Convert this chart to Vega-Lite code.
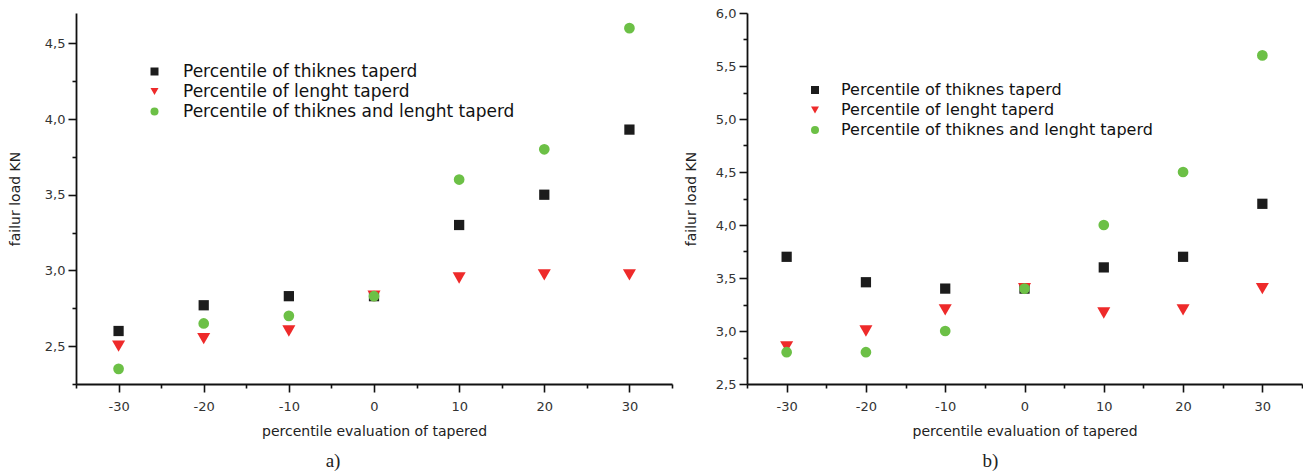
{
  "$schema": "https://vega.github.io/schema/vega-lite/v6.json",
  "padding": {"left": 8, "top": 7, "right": 0, "bottom": 0},
  "background": "white",
  "spacing": 11,
  "config": {
    "view": {"stroke": null},
    "font": "DejaVu Sans",
    "axis": {
      "grid": false,
      "domainColor": "#111",
      "domainWidth": 1.8,
      "tickColor": "#111",
      "tickWidth": 1.6,
      "labelFont": "DejaVu Sans",
      "labelFontSize": 13,
      "labelColor": "#333",
      "titleFont": "DejaVu Sans",
      "titleFontSize": 14,
      "titleFontWeight": "normal",
      "titleColor": "#222"
    },
    "axisX": {"labelPadding": 8, "titlePadding": 11, "labelFlush": false},
    "axisY": {"labelPadding": 3, "titlePadding": 22},
    "legend": {
      "orient": "none",
      "title": null,
      "labelFont": "DejaVu Sans",
      "labelColor": "#111",
      "labelLimit": 0,
      "symbolSize": 64,
      "symbolStrokeWidth": 0,
      "rowPadding": 2,
      "labelOffset": 20
    },
    "title": {"font": "Liberation Serif", "fontSize": 19, "fontWeight": "normal", "color": "#222", "orient": "bottom", "offset": 14}
  },
  "datasets": {
    "a": [
      {"x": -30, "series": "Percentile of thiknes taperd", "y": 2.60},
      {"x": -20, "series": "Percentile of thiknes taperd", "y": 2.77},
      {"x": -10, "series": "Percentile of thiknes taperd", "y": 2.83},
      {"x": 0, "series": "Percentile of thiknes taperd", "y": 2.83},
      {"x": 10, "series": "Percentile of thiknes taperd", "y": 3.30},
      {"x": 20, "series": "Percentile of thiknes taperd", "y": 3.50},
      {"x": 30, "series": "Percentile of thiknes taperd", "y": 3.93},
      {"x": -30, "series": "Percentile of lenght taperd", "y": 2.50},
      {"x": -20, "series": "Percentile of lenght taperd", "y": 2.55},
      {"x": -10, "series": "Percentile of lenght taperd", "y": 2.60},
      {"x": 0, "series": "Percentile of lenght taperd", "y": 2.83},
      {"x": 10, "series": "Percentile of lenght taperd", "y": 2.95},
      {"x": 20, "series": "Percentile of lenght taperd", "y": 2.97},
      {"x": 30, "series": "Percentile of lenght taperd", "y": 2.97},
      {"x": -30, "series": "Percentile of thiknes and lenght taperd", "y": 2.35},
      {"x": -20, "series": "Percentile of thiknes and lenght taperd", "y": 2.65},
      {"x": -10, "series": "Percentile of thiknes and lenght taperd", "y": 2.70},
      {"x": 0, "series": "Percentile of thiknes and lenght taperd", "y": 2.83},
      {"x": 10, "series": "Percentile of thiknes and lenght taperd", "y": 3.60},
      {"x": 20, "series": "Percentile of thiknes and lenght taperd", "y": 3.80},
      {"x": 30, "series": "Percentile of thiknes and lenght taperd", "y": 4.60}
    ],
    "b": [
      {"x": -30, "series": "Percentile of thiknes taperd", "y": 3.70},
      {"x": -20, "series": "Percentile of thiknes taperd", "y": 3.46},
      {"x": -10, "series": "Percentile of thiknes taperd", "y": 3.40},
      {"x": 0, "series": "Percentile of thiknes taperd", "y": 3.40},
      {"x": 10, "series": "Percentile of thiknes taperd", "y": 3.60},
      {"x": 20, "series": "Percentile of thiknes taperd", "y": 3.70},
      {"x": 30, "series": "Percentile of thiknes taperd", "y": 4.20},
      {"x": -30, "series": "Percentile of lenght taperd", "y": 2.85},
      {"x": -20, "series": "Percentile of lenght taperd", "y": 3.00},
      {"x": -10, "series": "Percentile of lenght taperd", "y": 3.20},
      {"x": 0, "series": "Percentile of lenght taperd", "y": 3.40},
      {"x": 10, "series": "Percentile of lenght taperd", "y": 3.17},
      {"x": 20, "series": "Percentile of lenght taperd", "y": 3.20},
      {"x": 30, "series": "Percentile of lenght taperd", "y": 3.40},
      {"x": -30, "series": "Percentile of thiknes and lenght taperd", "y": 2.80},
      {"x": -20, "series": "Percentile of thiknes and lenght taperd", "y": 2.80},
      {"x": -10, "series": "Percentile of thiknes and lenght taperd", "y": 3.00},
      {"x": 0, "series": "Percentile of thiknes and lenght taperd", "y": 3.40},
      {"x": 10, "series": "Percentile of thiknes and lenght taperd", "y": 4.00},
      {"x": 20, "series": "Percentile of thiknes and lenght taperd", "y": 4.50},
      {"x": 30, "series": "Percentile of thiknes and lenght taperd", "y": 5.60}
    ]
  },
  "resolve": {
    "scale": {"color": "independent", "shape": "independent", "x": "independent", "y": "independent"},
    "legend": {"color": "independent", "shape": "independent"}
  },
  "hconcat": [
    {
      "width": 596,
      "height": 371,
      "data": {"name": "a"},
      "title": {"text": "a)", "dx": -41},
      "encoding": {
        "x": {
          "field": "x", "type": "quantitative",
          "scale": {"domain": [-35, 35], "nice": false, "zero": false},
          "axis": {
            "title": "percentile evaluation of tapered",
            "values": [-35, -30, -25, -20, -15, -10, -5, 0, 5, 10, 15, 20, 25, 30, 35],
            "labelExpr": "datum.value % 10 === 0 ? '' + datum.value : ''",
            "tickSize": {"condition": {"test": "datum.value % 10 !== 0", "value": 4}, "value": 8}
          }
        },
        "y": {
          "field": "y", "type": "quantitative",
          "scale": {"domain": [2.25, 4.7], "nice": false, "zero": false},
          "axis": {
            "title": "failur load KN",
            "values": [2.25, 2.5, 2.75, 3.0, 3.25, 3.5, 3.75, 4.0, 4.25, 4.5],
            "labelExpr": "abs(datum.value * 2 - round(datum.value * 2)) < 0.01 ? replace(format(datum.value, '.1f'), '.', ',') : ''",
            "tickSize": {"condition": {"test": "abs(datum.value * 2 - round(datum.value * 2)) > 0.01", "value": 4}, "value": 8}
          }
        },
        "color": {
          "field": "series", "type": "nominal",
          "scale": {"domain": ["Percentile of thiknes taperd", "Percentile of lenght taperd", "Percentile of thiknes and lenght taperd"], "range": ["#1c1c1c", "#ee2a2a", "#6cc046"]},
          "legend": {"legendX": 70, "legendY": 50, "labelFontSize": 17, "labelOffset": 20}
        },
        "shape": {
          "field": "series", "type": "nominal",
          "scale": {"domain": ["Percentile of thiknes taperd", "Percentile of lenght taperd", "Percentile of thiknes and lenght taperd"], "range": ["square", "triangle-down", "circle"]},
          "legend": {"legendX": 70, "legendY": 50, "labelFontSize": 17, "labelOffset": 20}
        }
      },
      "layer": [
        {"transform": [{"filter": "datum.series === 'Percentile of thiknes taperd'"}], "mark": {"type": "point", "filled": true, "opacity": 1, "strokeWidth": 0, "size": 105}},
        {"transform": [{"filter": "datum.series === 'Percentile of lenght taperd'"}], "mark": {"type": "point", "filled": true, "opacity": 1, "strokeWidth": 0, "size": 170}},
        {"transform": [{"filter": "datum.series === 'Percentile of thiknes and lenght taperd'"}], "mark": {"type": "point", "filled": true, "opacity": 1, "strokeWidth": 0, "size": 115}}
      ]
    },
    {
      "width": 555,
      "height": 371,
      "data": {"name": "b"},
      "title": {"text": "b)", "dx": -34},
      "encoding": {
        "x": {
          "field": "x", "type": "quantitative",
          "scale": {"domain": [-35, 35], "nice": false, "zero": false},
          "axis": {
            "title": "percentile evaluation of tapered",
            "values": [-35, -30, -25, -20, -15, -10, -5, 0, 5, 10, 15, 20, 25, 30, 35],
            "labelExpr": "datum.value % 10 === 0 ? '' + datum.value : ''",
            "tickSize": {"condition": {"test": "datum.value % 10 !== 0", "value": 4}, "value": 8}
          }
        },
        "y": {
          "field": "y", "type": "quantitative",
          "scale": {"domain": [2.5, 6.0], "nice": false, "zero": false},
          "axis": {
            "title": "failur load KN",
            "titlePadding": 17,
            "values": [2.5, 2.75, 3.0, 3.25, 3.5, 3.75, 4.0, 4.25, 4.5, 4.75, 5.0, 5.25, 5.5, 5.75, 6.0],
            "labelExpr": "abs(datum.value * 2 - round(datum.value * 2)) < 0.01 ? replace(format(datum.value, '.1f'), '.', ',') : ''",
            "tickSize": {"condition": {"test": "abs(datum.value * 2 - round(datum.value * 2)) > 0.01", "value": 4}, "value": 8}
          }
        },
        "color": {
          "field": "series", "type": "nominal",
          "scale": {"domain": ["Percentile of thiknes taperd", "Percentile of lenght taperd", "Percentile of thiknes and lenght taperd"], "range": ["#1c1c1c", "#ee2a2a", "#6cc046"]},
          "legend": {"legendX": 60, "legendY": 69, "labelFontSize": 16, "labelOffset": 18, "rowPadding": 4}
        },
        "shape": {
          "field": "series", "type": "nominal",
          "scale": {"domain": ["Percentile of thiknes taperd", "Percentile of lenght taperd", "Percentile of thiknes and lenght taperd"], "range": ["square", "triangle-down", "circle"]},
          "legend": {"legendX": 60, "legendY": 69, "labelFontSize": 16, "labelOffset": 18, "rowPadding": 4}
        }
      },
      "layer": [
        {"transform": [{"filter": "datum.series === 'Percentile of thiknes taperd'"}], "mark": {"type": "point", "filled": true, "opacity": 1, "strokeWidth": 0, "size": 105}},
        {"transform": [{"filter": "datum.series === 'Percentile of lenght taperd'"}], "mark": {"type": "point", "filled": true, "opacity": 1, "strokeWidth": 0, "size": 170}},
        {"transform": [{"filter": "datum.series === 'Percentile of thiknes and lenght taperd'"}], "mark": {"type": "point", "filled": true, "opacity": 1, "strokeWidth": 0, "size": 115}}
      ]
    }
  ]
}
